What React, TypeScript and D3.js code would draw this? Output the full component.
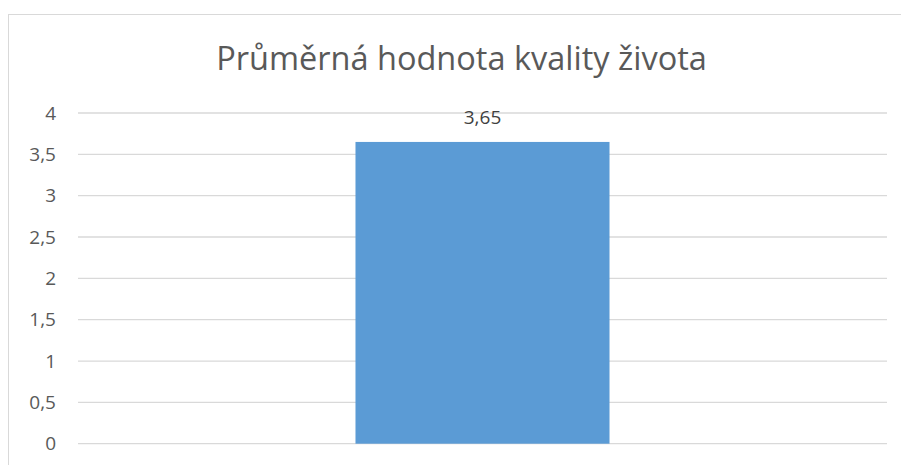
import React from "react";
import * as d3 from "d3";

const categories: string[] = ["Kvalita života"];
const values: number[] = [3.65];
const yTicks: number[] = [0, 0.5, 1, 1.5, 2, 2.5, 3, 3.5, 4];
const title = "Průměrná hodnota kvality života";

const W = 901;
const H = 465;
const left = 78;
const right = 887;
const top = 113;
const bottom = 443.7;

const fmt = (v: number) => String(v).replace(".", ",");

export default function App() {
  const x = d3.scaleBand<string>().domain(categories).range([left, right]).paddingInner(0.686).paddingOuter(0.343);
  const y = d3.scaleLinear().domain([0, 4]).range([bottom, top]);
  const font = "Open Sans, Noto Sans, sans-serif";
  return (
    <svg width={W} height={H} style={{ position: "absolute", left: 0, top: 0, display: "block" }}>
      <rect x={8.5} y={14.5} width={W + 10} height={H + 10} fill="#fff" stroke="#D9D9D9" strokeWidth={1} />
      <text x={461.5} y={70} textAnchor="middle" fontFamily={font} fontSize={32.5} fill="#595959">
        {title}
      </text>
      {yTicks.map((t) => (
        <g key={t}>
          <line x1={left} x2={right} y1={y(t)} y2={y(t)} stroke="#D9D9D9" strokeWidth={1.3} />
          <text x={56} y={y(t)} dy="0.35em" textAnchor="end" fontFamily={font} fontSize={19} fill="#595959">
            {fmt(t)}
          </text>
        </g>
      ))}
      {categories.map((c, i) => (
        <g key={c}>
          <rect x={x(c)} y={y(values[i])} width={x.bandwidth()} height={y(0) - y(values[i])} fill="#5B9BD5" />
          <text
            x={(x(c) ?? 0) + x.bandwidth() / 2}
            y={y(values[i]) - 18}
            textAnchor="middle"
            fontFamily={font}
            fontSize={19}
            fill="#404040"
          >
            {fmt(values[i])}
          </text>
        </g>
      ))}
    </svg>
  );
}
